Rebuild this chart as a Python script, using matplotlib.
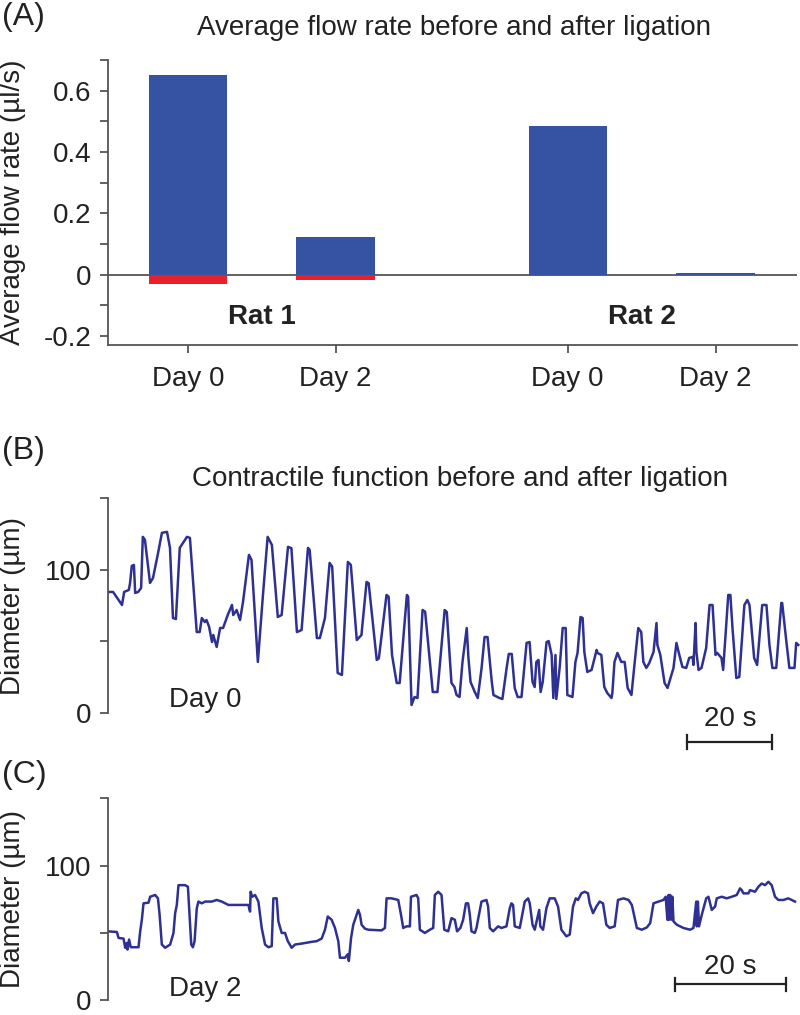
import numpy as np
import matplotlib
matplotlib.use("Agg")
import matplotlib.pyplot as plt
from matplotlib.ticker import FixedLocator

plt.rcParams['font.family'] = ['Liberation Sans', 'DejaVu Sans']

# ---- (A) average flow rate ----
bar_labels = ['Day 0', 'Day 2', 'Day 0', 'Day 2']
rat_labels = ['Rat 1', 'Rat 2']
flow_pos = [0.65, 0.122, 0.485, 0.004]      # µl/s, forward
flow_neg = [-0.032, -0.017, -0.006, -0.003]  # µl/s, backward

# ---- (B) Day 0 diameter trace (time s, diameter µm) ----
b_time = [0, 1.2, 3.3, 3.8, 4.9, 5.2, 5.6, 6.1, 6.4, 7.1, 7.8, 8.2, 8.7, 9.2, 9.9,
          10.6, 11.8, 12.7, 13.9, 14.6, 15.3, 16.0, 16.9, 18.6, 19.3, 20.9, 21.6,
          22.1, 22.8, 23.2, 23.8, 24.5, 24.8, 25.6, 26.4, 27.1, 28.2, 29.2, 29.5,
          30.3, 31.1, 31.8, 33.2, 33.8, 35.3, 36.5, 37.6, 38.6, 40.0, 40.9, 42.4,
          43.2, 44.5, 45.6, 47.1, 47.5, 49.2, 49.9, 51.1, 52.2, 52.8, 54.1, 55.1,
          56.5, 57.2, 58.6, 59.7, 60.9, 61.4, 63.3, 63.8, 65.6, 66.1, 66.9, 68.0,
          68.7, 70.4, 70.7, 71.5, 72.2, 72.9, 74.1, 74.7, 76.5, 77.6, 79.3, 79.8,
          80.9, 81.6, 82.1, 82.8, 83.5, 84.5, 84.9, 85.4, 86.4, 87.1, 88.0, 88.7,
          89.4, 90.4, 90.8, 92.2, 92.9, 93.9, 94.4, 95.1, 95.8, 96.5, 97.4, 98.6,
          99.3, 100.0, 100.5, 100.9, 101.4, 101.9, 102.4, 103.3, 103.8, 104.5,
          104.9, 105.4, 105.6, 106.4, 107.1, 107.8, 108.2, 109.4, 110.1, 110.6,
          111.3, 111.8, 112.2, 112.9, 113.9, 115.1, 115.3, 116.2, 116.9, 117.6,
          118.6, 118.8, 119.3, 120.0, 120.9, 121.7, 122.4, 123.3, 124.0, 124.9,
          125.6, 126.1, 126.8, 127.5, 128.5, 129.2, 129.4, 130.1, 131.1, 131.8,
          132.7, 133.2, 133.9, 134.4, 135.3, 136.2, 136.9, 137.7, 137.9, 138.4,
          138.6, 139.1, 139.8, 140.9, 141.7, 142.4, 143.1, 143.5, 144.5, 144.9,
          146.1, 146.6, 147.1, 148.0, 148.7, 149.9, 150.6, 151.1, 152.2, 152.9,
          154.1, 155.1, 155.8, 156.5, 157.4, 158.6, 158.8, 159.8, 160.5, 161.7,
          162.1, 162.6]
b_diam = [84.6, 84.6, 75.5, 84.6, 86.0, 90.9, 102.8, 103.5, 83.9, 84.6, 87.4, 123.1,
          121.0, 108.4, 90.9, 94.4, 111.9, 125.9, 126.6, 115.4, 66.4, 65.7, 115.4,
          123.1, 122.4, 56.6, 56.6, 66.4, 63.6, 65.0, 60.4, 49.6, 54.5, 46.2, 59.4,
          59.4, 68.5, 75.5, 68.5, 72.0, 65.0, 77.6, 110.5, 107.0, 35.7, 82.5, 123.1,
          117.5, 67.1, 68.5, 116.1, 115.2, 56.6, 58.0, 115.4, 114.0, 52.4, 52.4,
          66.4, 104.9, 102.3, 28.0, 26.6, 105.6, 103.5, 51.0, 54.5, 91.6, 90.7,
          37.1, 38.2, 82.5, 81.3, 40.6, 21.0, 21.0, 82.5, 81.3, 5.6, 11.2, 10.5,
          72.0, 70.8, 14.7, 14.7, 72.0, 70.6, 21.0, 18.2, 12.6, 11.2, 35.7, 59.4,
          38.5, 21.7, 14.7, 10.5, 31.5, 53.1, 53.1, 21.7, 12.6, 10.5, 9.8, 31.5,
          41.3, 41.3, 17.5, 11.2, 11.2, 49.0, 49.6, 21.7, 18.2, 35.7, 37.1, 14.7,
          21.7, 49.6, 50.3, 40.6, 10.5, 40.6, 9.8, 32.2, 59.4, 59.4, 12.6, 11.2,
          35.7, 42.0, 67.1, 66.4, 42.7, 28.7, 30.1, 44.1, 42.0, 40.6, 18.2, 14.0,
          10.5, 14.0, 35.7, 42.0, 35.7, 35.7, 17.5, 12.6, 33.6, 59.4, 56.6, 35.7,
          31.5, 35.0, 42.7, 62.9, 47.6, 40.6, 21.0, 17.5, 26.6, 31.5, 49.0, 42.7,
          32.2, 31.5, 38.5, 39.2, 33.6, 62.9, 42.7, 30.1, 31.5, 45.5, 75.5, 75.5,
          40.6, 42.0, 38.5, 30.1, 82.5, 82.5, 59.4, 24.5, 25.2, 75.5, 79.0, 75.5,
          38.5, 33.6, 75.5, 75.5, 47.6, 31.5, 31.5, 76.9, 76.9, 49.6, 31.5, 31.5,
          49.0, 47.6]

# ---- (C) Day 2 diameter trace (time s, diameter µm) ----
c_time = [0, 1.6, 1.9, 2.8, 3.1, 3.4, 3.5, 3.8, 4.1, 5.5, 5.8, 6.1, 6.4, 7.3, 7.6,
          8.5, 9.0, 9.3, 9.7, 10.3, 11.2, 11.8, 12.1, 12.4, 12.7, 13.9, 14.4, 14.7,
          15.0, 15.3, 15.6, 16.0, 16.3, 16.9, 17.5, 18.7, 19.6, 20.5, 21.7, 23.5,
          25.3, 25.6, 25.7, 26.0, 26.5, 27.1, 27.7, 28.3, 28.9, 29.5, 29.8, 30.4,
          30.7, 31.3, 31.9, 32.4, 33.1, 33.7, 34.9, 36.7, 37.6, 38.5, 39.1, 39.6,
          40.3, 40.9, 41.5, 41.8, 42.7, 43.2, 43.4, 43.8, 44.2, 44.6, 45.1, 45.4,
          45.7, 46.3, 46.9, 49.3, 49.9, 50.2, 51.1, 52.3, 52.8, 53.2, 53.8, 54.4,
          54.6, 55.6, 55.9, 56.2, 57.1, 58.0, 58.6, 58.9, 59.5, 60.1, 60.6, 61.3,
          61.9, 62.5, 62.9, 63.5, 64.0, 64.5, 64.9, 65.2, 65.5, 66.1, 66.4, 67.3,
          68.2, 68.5, 68.8, 69.4, 70.3, 70.9, 71.8, 72.4, 72.7, 73.0, 73.3, 74.2,
          75.1, 75.7, 76.0, 76.5, 76.9, 77.3, 77.7, 77.9, 78.4, 79.0, 79.6, 80.5,
          81.1, 81.7, 82.6, 83.2, 83.8, 84.3, 84.7, 85.3, 85.9, 86.5, 86.8, 87.4,
          88.0, 88.6, 89.2, 89.8, 90.4, 91.3, 91.9, 92.9, 93.8, 94.4, 95.3, 96.2,
          97.1, 97.7, 98.3, 99.2, 100.1, 100.5, 100.8, 101.0, 101.1, 101.3, 101.5,
          101.7, 101.9, 102.5, 103.7, 104.9, 105.5, 105.8, 106.0, 106.1, 106.3,
          106.5, 107.0, 107.8, 108.2, 108.8, 109.4, 109.7, 110.6, 111.5, 112.4,
          113.3, 113.9, 114.2, 114.5, 115.4, 115.7, 116.6, 117.2, 117.8, 118.4,
          119.0, 119.6, 120.2, 120.8, 121.7, 122.6, 123.2, 123.8]
c_diam = [51.2, 50.7, 46.3, 45.8, 39.0, 42.6, 37.7, 45.1, 39.4, 39.4, 51.2, 59.8,
          72.0, 72.5, 76.9, 78.2, 75.7, 63.5, 41.4, 39.0, 41.4, 50.0, 64.7, 70.8,
          85.5, 85.5, 84.3, 63.5, 41.4, 39.4, 43.9, 68.4, 73.3, 72.0, 73.3, 73.3,
          74.5, 73.3, 70.8, 70.8, 70.8, 65.9, 80.6, 76.9, 78.2, 73.3, 53.7, 41.4,
          39.4, 40.2, 75.7, 75.7, 58.6, 50.0, 50.0, 43.9, 39.0, 41.4, 42.1, 43.4,
          43.9, 45.8, 52.4, 62.2, 59.8, 53.7, 43.9, 31.6, 31.6, 34.1, 29.2, 46.3,
          56.1, 61.0, 67.1, 63.5, 56.1, 53.2, 52.4, 51.9, 53.7, 75.7, 75.7, 74.5,
          63.5, 53.7, 54.9, 54.9, 76.9, 78.2, 75.7, 52.4, 50.0, 52.4, 53.7, 78.2,
          80.6, 78.2, 52.4, 51.2, 61.0, 59.8, 51.2, 53.7, 59.8, 72.0, 72.0, 63.5,
          51.2, 50.0, 53.7, 73.3, 74.5, 69.6, 53.7, 51.2, 54.9, 53.7, 54.9, 68.4,
          72.0, 70.8, 54.9, 53.7, 73.3, 75.7, 72.0, 56.1, 52.4, 59.8, 67.1, 54.9,
          52.4, 68.4, 75.7, 75.7, 69.6, 52.4, 47.5, 48.8, 69.6, 75.7, 74.5, 79.4,
          80.6, 79.4, 72.0, 64.7, 69.6, 73.3, 72.0, 56.1, 53.7, 54.9, 74.5, 75.7,
          74.5, 70.8, 53.7, 52.4, 54.1, 57.3, 72.0, 73.3, 74.5, 76.9, 59.8, 78.2,
          59.8, 78.2, 59.8, 76.9, 58.6, 56.1, 53.7, 52.4, 53.7, 65.9, 73.3, 54.9,
          73.3, 54.9, 63.5, 75.7, 76.9, 67.1, 69.6, 75.7, 76.9, 75.7, 76.9, 78.2,
          83.1, 81.8, 79.4, 79.4, 81.8, 80.6, 84.3, 86.7, 85.5, 88.0, 85.5, 76.9,
          74.5, 74.5, 75.7, 74.5, 73.3]

SCALE_S = 20

BAR_BLUE = '#3652a3'
BAR_RED = '#e8202a'
TRACE = '#2e3192'
AXIS = '#555555'
TEXT = '#222222'
FS = 20


def style_axis(ax):
    for s in ['top', 'right']:
        ax.spines[s].set_visible(False)
    for s in ['left', 'bottom']:
        ax.spines[s].set_color(AXIS)
        ax.spines[s].set_linewidth(1.3)
    ax.tick_params(which='both', direction='out', color=AXIS, width=1.3,
                   length=6, labelsize=FS, labelcolor=TEXT, pad=6)


fig = plt.figure(figsize=(8, 10.15), dpi=100)

# ---------------- panel A ----------------
axA = fig.add_axes([0.135, 0.660, 0.861, 0.281])
style_axis(axA)
xpos = [1, 2, 3.57, 4.57]
width = 0.53
axA.axhline(0, color=AXIS, lw=1.3, zorder=1)
axA.bar(xpos, flow_pos, width=width, color=BAR_BLUE, zorder=2)
axA.bar(xpos, flow_neg, width=width, color=BAR_RED, zorder=2)
axA.set_xlim(0.46, 5.12)
axA.set_ylim(-0.23, 0.7)
axA.set_xticks(xpos)
axA.set_xticklabels(bar_labels)
axA.tick_params(axis='x', pad=9)
axA.set_yticks([-0.2, 0, 0.2, 0.4, 0.6])
axA.set_yticklabels(['-0.2', '0', '0.2', '0.4', '0.6'])
axA.yaxis.set_minor_locator(FixedLocator([-0.1, 0.1, 0.3, 0.5, 0.7]))
axA.set_ylabel('Average flow rate (µl/s)', fontsize=FS, color=TEXT, va='center')
axA.yaxis.set_label_coords(-0.138, 0.5)
axA.text((xpos[0] + xpos[1]) / 2, -0.14, rat_labels[0], fontsize=FS,
         fontweight='bold', ha='center', va='center', color=TEXT)
axA.text((xpos[2] + xpos[3]) / 2, -0.14, rat_labels[1], fontsize=FS,
         fontweight='bold', ha='center', va='center', color=TEXT)

fig.text(0.567, 0.972, 'Average flow rate before and after ligation',
         fontsize=FS, ha='center', va='center', color=TEXT)
fig.text(0.003, 0.983, '(A)', fontsize=23, ha='left', va='center', color=TEXT)


def trace_panel(rect, t, d, xmax, day, day_xy, bar_x, bar_y, label_y):
    ax = fig.add_axes(rect)
    style_axis(ax)
    ax.spines['bottom'].set_visible(False)
    ax.tick_params(axis='x', which='both', bottom=False, labelbottom=False)
    ax.plot(t, d, color=TRACE, lw=1.8, solid_joinstyle='round')
    ax.set_xlim(0, xmax)
    ax.set_ylim(0, 150)
    ax.set_yticks([0, 100])
    ax.yaxis.set_minor_locator(FixedLocator([50, 150]))
    ax.set_ylabel('Diameter (µm)', fontsize=FS, color=TEXT, va='center')
    ax.yaxis.set_label_coords(-0.138, 0.5)
    ax.text(day_xy[0], day_xy[1], day, fontsize=FS, ha='center', va='center',
            color=TEXT)
    # 20 s scale bar
    x0, x1 = bar_x, bar_x + SCALE_S
    ax.plot([x0, x1], [bar_y, bar_y], color=TEXT, lw=1.6, clip_on=False)
    for xe in (x0, x1):
        ax.plot([xe, xe], [bar_y - 5, bar_y + 5], color=TEXT, lw=1.6,
                clip_on=False)
    ax.text((x0 + x1) / 2, label_y, f'{SCALE_S} s', fontsize=FS, ha='center',
            va='center', color=TEXT)
    return ax


trace_panel([0.135, 0.2975, 0.865, 0.2115], b_time, b_diam, 163.0,
            'Day 0', (22.8, 9.1), 136.5, -20.3, -4.0)
fig.text(0.575, 0.528, 'Contractile function before and after ligation',
         fontsize=FS, ha='center', va='center', color=TEXT)
fig.text(0.003, 0.556, '(B)', fontsize=23, ha='left', va='center', color=TEXT)

trace_panel([0.135, 0.0145, 0.865, 0.199], c_time, c_diam, 124.7,
            'Day 2', (17.5, 8.1), 102.2, 11.8, 25.0)
fig.text(0.003, 0.236, '(C)', fontsize=23, ha='left', va='center', color=TEXT)

fig.savefig('out.png', dpi=100)
